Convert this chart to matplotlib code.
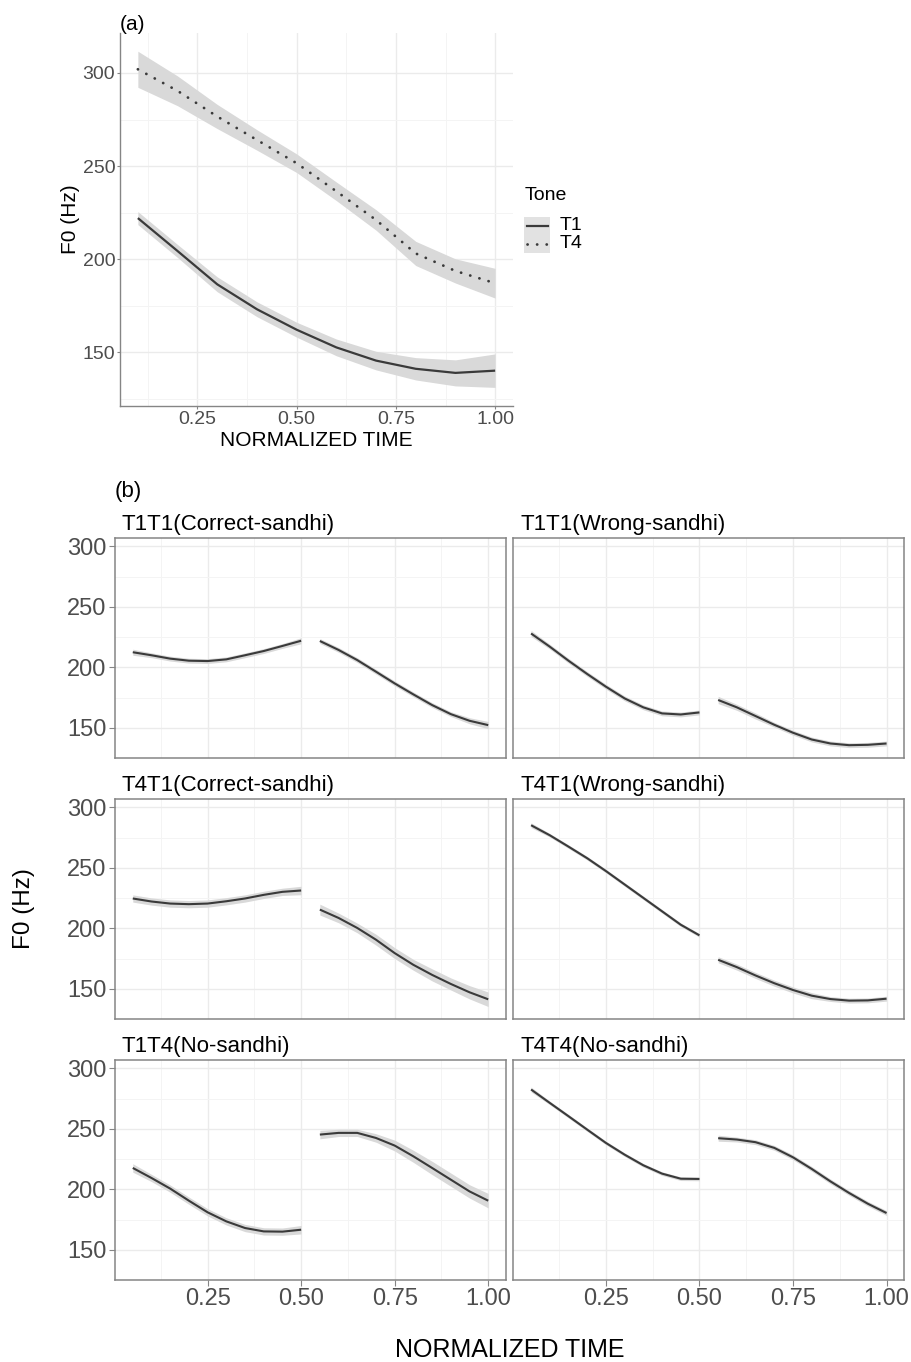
import matplotlib
matplotlib.use("Agg")
import matplotlib.pyplot as plt
from matplotlib.patches import Rectangle
from matplotlib.lines import Line2D
import numpy as np

plt.rcParams['font.family'] = ['Liberation Sans', 'DejaVu Sans']

# ---------------- data: panel (a) ----------------
time_a = [0.1, 0.2, 0.3, 0.4, 0.5, 0.6, 0.7, 0.8, 0.9, 1.0]
a_T1 = [222, 204.3, 186.4, 173, 162, 152.5, 145.4, 141, 138.8, 140]
a_T1_se = [3.5, 3.5, 4, 4, 4, 4.5, 5, 6, 7, 9]
a_T4 = [302, 290.4, 276.6, 264, 251.5, 236.4, 221, 203, 193.6, 187]
a_T4_se = [9.7, 8, 6.5, 5.5, 5, 5, 5.5, 6.5, 6.5, 8]
tone_labels = ["T1", "T4"]

# ---------------- data: panel (b) ----------------
time_syl1 = [0.05, 0.10, 0.15, 0.20, 0.25, 0.30, 0.35, 0.40, 0.45, 0.50]
time_syl2 = [0.55, 0.60, 0.65, 0.70, 0.75, 0.80, 0.85, 0.90, 0.95, 1.00]

facet_titles = ["T1T1(Correct-sandhi)", "T1T1(Wrong-sandhi)",
                "T4T1(Correct-sandhi)", "T4T1(Wrong-sandhi)",
                "T1T4(No-sandhi)", "T4T4(No-sandhi)"]

t1t1_correct_s1 = [212.5, 210, 207.2, 205.5, 205.2, 206.6, 210, 213.5, 217.7, 222]
t1t1_correct_s2 = [221.8, 214.4, 206, 196.4, 186.7, 177.6, 168.8, 161.3, 155.8, 152.2]
t1t1_correct_se1 = [2.5, 2, 2, 2, 2, 2, 2, 2, 2, 2.5]
t1t1_correct_se2 = [2, 2, 2, 2, 2, 2, 2, 2, 2.5, 3]

t1t1_wrong_s1 = [228, 217.1, 205.5, 194.5, 184, 174.3, 166.9, 161.9, 161, 162.7]
t1t1_wrong_s2 = [173, 166.9, 159.7, 152.5, 145.9, 140.3, 137, 135.6, 135.9, 137]
t1t1_wrong_se1 = [2.5, 2, 2, 2, 2, 2, 2, 2, 2, 2]
t1t1_wrong_se2 = [3, 2.5, 2.5, 2, 2, 2, 2, 2, 2, 2]

t4t1_correct_s1 = [224.7, 222.2, 220.5, 220, 220.5, 222.4, 224.7, 227.7, 230.2, 231.3]
t4t1_correct_s2 = [215.5, 208.6, 200.3, 190.6, 179.5, 169.8, 161.5, 154, 147.1, 141.3]
t4t1_correct_se1 = [3, 3, 3, 3, 3, 3, 3, 3, 3, 3.5]
t4t1_correct_se2 = [4.5, 4, 4, 4.5, 4.5, 4.5, 5, 5, 5.5, 6]

t4t1_wrong_s1 = [285.3, 277, 267.6, 258, 247.4, 236.3, 225.2, 214.1, 203, 194.2]
t4t1_wrong_s2 = [174, 167.9, 161, 154.6, 149, 144.3, 141.5, 140.2, 140.4, 141.8]
t4t1_wrong_se1 = [2, 1.5, 1.5, 1.5, 1.5, 1.5, 1.5, 1.5, 1.5, 1.5]
t4t1_wrong_se2 = [2.5, 2.5, 2.5, 2.5, 2.5, 2.5, 2, 2, 2, 2]

t1t4_no_s1 = [217.7, 209.4, 200.6, 190.6, 181, 173.5, 168, 165.2, 165, 166.6]
t1t4_no_s2 = [245.3, 246.7, 246.7, 242.5, 236.2, 227.3, 217.7, 208, 198.3, 190.6]
t1t4_no_se1 = [3.5, 3, 3, 3, 3, 3, 3, 3, 3, 3.5]
t1t4_no_se2 = [3.5, 3, 3, 3.5, 4.5, 5, 5.5, 5.5, 5.5, 6]

t4t4_no_s1 = [282.6, 271.5, 260.5, 249.4, 238.4, 228.7, 219.9, 213, 208.8, 208.6]
t4t4_no_s2 = [242.3, 241.2, 239, 234.3, 226.5, 216.9, 206.6, 197, 188.1, 180.4]
t4t4_no_se1 = [2, 1.5, 1.5, 1.5, 1.5, 1.5, 1.5, 1.5, 1.5, 1.5]
t4t4_no_se2 = [2.5, 2, 2, 2, 2, 2, 2, 2, 2, 2]

facet_series = [
    (t1t1_correct_s1, t1t1_correct_se1, t1t1_correct_s2, t1t1_correct_se2),
    (t1t1_wrong_s1, t1t1_wrong_se1, t1t1_wrong_s2, t1t1_wrong_se2),
    (t4t1_correct_s1, t4t1_correct_se1, t4t1_correct_s2, t4t1_correct_se2),
    (t4t1_wrong_s1, t4t1_wrong_se1, t4t1_wrong_s2, t4t1_wrong_se2),
    (t1t4_no_s1, t1t4_no_se1, t1t4_no_s2, t1t4_no_se2),
    (t4t4_no_s1, t4t4_no_se1, t4t4_no_s2, t4t4_no_se2),
]

x_ticks = [0.25, 0.50, 0.75, 1.00]
x_tick_labels = ["0.25", "0.50", "0.75", "1.00"]
y_ticks = [150, 200, 250, 300]

# ---------------- styling ----------------
W, H = 912, 1362
fig = plt.figure(figsize=(W / 100, H / 100), dpi=100)

def rect(l, t, r, b):
    return [l / W, 1 - b / H, (r - l) / W, (b - t) / H]

def fx(x):
    return x / W

def fy(y):
    return 1 - y / H

LINE = '#3a3a3a'
RIB = '#d9d9d9'
TICKC = '#4d4d4d'
AXC = '#858585'
DOTS = (0, (0.05, 3.4))

def style_grid(ax):
    ax.set_xticks(x_ticks)
    ax.set_xticklabels(x_tick_labels)
    ax.set_xticks([0.125, 0.375, 0.625, 0.875], minor=True)
    ax.set_yticks(y_ticks)
    ax.set_yticks([125, 175, 225, 275], minor=True)
    ax.grid(which='major', color='#ebebeb', lw=1.0)
    ax.grid(which='minor', color='#f4f4f4', lw=0.7)
    ax.set_axisbelow(True)
    ax.tick_params(which='minor', length=0)

def band(ax, x, y, se, ls='-', lw=1.5):
    x = np.asarray(x); y = np.asarray(y); se = np.asarray(se)
    ax.fill_between(x, y - se, y + se, color=RIB, lw=0, zorder=2)
    ax.plot(x, y, color=LINE, lw=lw, ls=ls, zorder=3,
            dash_capstyle='round', solid_capstyle='butt',
            solid_joinstyle='round')

# ---------------- panel (a) ----------------
axA = fig.add_axes(rect(120, 33, 513, 406))
axA.set_xlim(0.055, 1.045)
axA.set_ylim(121, 321.5)
style_grid(axA)
for s in ['top', 'right']:
    axA.spines[s].set_visible(False)
for s in ['left', 'bottom']:
    axA.spines[s].set_color(AXC)
    axA.spines[s].set_linewidth(1.0)
axA.tick_params(which='major', labelsize=14, labelcolor=TICKC, color=AXC,
                length=2, pad=1.5)
band(axA, time_a, a_T1, a_T1_se, ls='-', lw=1.6)
band(axA, time_a, a_T4, a_T4_se, ls=DOTS, lw=2.0)

fig.text(fx(120), fy(24), "(a)", fontsize=15, ha='left', va='center')
fig.text(fx(316), fy(440), "NORMALIZED TIME", fontsize=15, ha='center', va='center')
fig.text(fx(70), fy(219), "F0 (Hz)", fontsize=15, ha='center', va='center', rotation=90)

# legend (a)
fig.text(fx(525), fy(196), "Tone", fontsize=14, ha='left', va='center')
key_y = [226, 244]
key_ls = ['-', DOTS]
key_lw = [1.6, 2.0]
for lab, ky, ls, klw in zip(tone_labels, key_y, key_ls, key_lw):
    fig.add_artist(Rectangle((fx(524), fy(ky + 9)), 26 / W, 18 / H,
                             transform=fig.transFigure, facecolor='#e2e2e2',
                             edgecolor='none'))
    fig.add_artist(Line2D([fx(527), fx(548)], [fy(ky), fy(ky)],
                          transform=fig.transFigure, color=LINE, lw=klw, ls=ls,
                          dash_capstyle='round'))
    fig.text(fx(560), fy(ky), lab, fontsize=14, ha='left', va='center')

# ---------------- panel (b) ----------------
col_lr = [(115, 506), (513.3, 904.3)]
row_tb = [(538, 758), (799, 1019), (1060, 1280)]

for i, (title, ser) in enumerate(zip(facet_titles, facet_series)):
    r, c = divmod(i, 2)
    l, rr = col_lr[c]
    t, b = row_tb[r]
    ax = fig.add_axes(rect(l, t, rr, b))
    ax.set_xlim(0.0025, 1.0475)
    ax.set_ylim(125, 307)
    style_grid(ax)
    for s in ax.spines.values():
        s.set_color(AXC)
        s.set_linewidth(1.1)
    ax.tick_params(which='major', labelsize=17, labelcolor=TICKC, color=AXC,
                   length=4, pad=2)
    if c == 1:
        ax.tick_params(axis='y', which='major', length=0, labelleft=False)
    if r < 2:
        ax.tick_params(axis='x', which='major', length=0, labelbottom=False)
    s1, se1, s2, se2 = ser
    band(ax, time_syl1, s1, se1, lw=1.5)
    band(ax, time_syl2, s2, se2, lw=1.5)
    fig.text(fx(l + 7), fy(t - 8), title, fontsize=16, ha='left', va='baseline')

fig.text(fx(115), fy(492), "(b)", fontsize=16, ha='left', va='center')
fig.text(fx(510), fy(1350), "NORMALIZED TIME", fontsize=18, ha='center', va='center')
fig.text(fx(24), fy(909), "F0 (Hz)", fontsize=17.5, ha='center', va='center', rotation=90)

fig.savefig("out.png", dpi=100, facecolor='white')
